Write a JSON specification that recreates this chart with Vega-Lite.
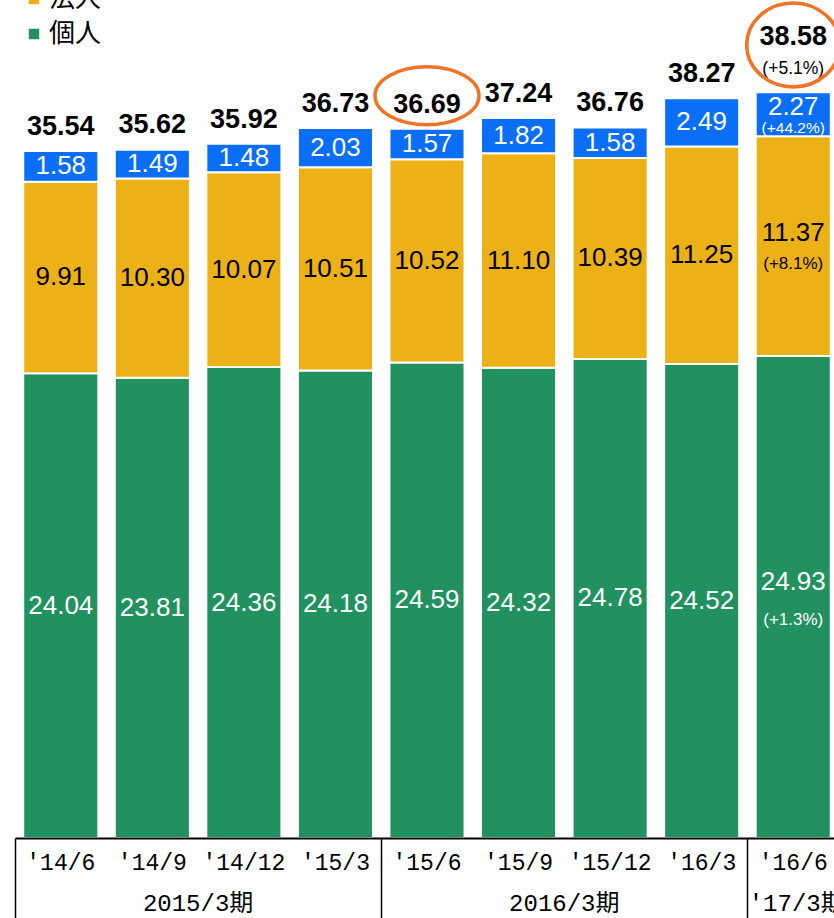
{
  "$schema": "https://vega.github.io/schema/vega-lite/v6.json",
  "width": 819,
  "height": 812,
  "autosize": {"type": "none"},
  "padding": {"left": 15, "top": 26, "right": 0, "bottom": 80},
  "background": "white",
  "config": {"view": {"stroke": null}, "text": {"font": "Liberation Sans"}},
  "datasets": {
    "segments": [
      {"period": "'14/6", "series": "個人", "value": 24.04},
      {"period": "'14/6", "series": "法人", "value": 9.91},
      {"period": "'14/6", "series": "公金", "value": 1.58},
      {"period": "'14/9", "series": "個人", "value": 23.81},
      {"period": "'14/9", "series": "法人", "value": 10.30},
      {"period": "'14/9", "series": "公金", "value": 1.49},
      {"period": "'14/12", "series": "個人", "value": 24.36},
      {"period": "'14/12", "series": "法人", "value": 10.07},
      {"period": "'14/12", "series": "公金", "value": 1.48},
      {"period": "'15/3", "series": "個人", "value": 24.18},
      {"period": "'15/3", "series": "法人", "value": 10.51},
      {"period": "'15/3", "series": "公金", "value": 2.03},
      {"period": "'15/6", "series": "個人", "value": 24.59},
      {"period": "'15/6", "series": "法人", "value": 10.52},
      {"period": "'15/6", "series": "公金", "value": 1.57},
      {"period": "'15/9", "series": "個人", "value": 24.32},
      {"period": "'15/9", "series": "法人", "value": 11.10},
      {"period": "'15/9", "series": "公金", "value": 1.82},
      {"period": "'15/12", "series": "個人", "value": 24.78},
      {"period": "'15/12", "series": "法人", "value": 10.39},
      {"period": "'15/12", "series": "公金", "value": 1.58},
      {"period": "'16/3", "series": "個人", "value": 24.52},
      {"period": "'16/3", "series": "法人", "value": 11.25},
      {"period": "'16/3", "series": "公金", "value": 2.49},
      {"period": "'16/6", "series": "個人", "value": 24.93, "pct": "(+1.3%)"},
      {"period": "'16/6", "series": "法人", "value": 11.37, "pct": "(+8.1%)"},
      {"period": "'16/6", "series": "公金", "value": 2.27, "pct": "(+44.2%)"}
    ],
    "totals": [
      {"period": "'14/6", "total": 35.54},
      {"period": "'14/9", "total": 35.62},
      {"period": "'14/12", "total": 35.92},
      {"period": "'15/3", "total": 36.73},
      {"period": "'15/6", "total": 36.69},
      {"period": "'15/9", "total": 37.24},
      {"period": "'15/12", "total": 36.76},
      {"period": "'16/3", "total": 38.27},
      {"period": "'16/6", "total": 38.58, "pct": "(+5.1%)"}
    ],
    "seriesMeta": [
      {"series": "個人", "rank": 1},
      {"series": "法人", "rank": 2},
      {"series": "公金", "rank": 3}
    ]
  },
  "data": {"name": "segments"},
  "transform": [
    {"lookup": "series", "from": {"data": {"name": "seriesMeta"}, "key": "series", "fields": ["rank"]}}
  ],
  "encoding": {
    "x": {
      "field": "period", "type": "nominal",
      "scale": {"domain": ["'14/6", "'14/9", "'14/12", "'15/3", "'15/6", "'15/9", "'15/12", "'16/3", "'16/6"], "range": [0, 824], "paddingInner": 0, "paddingOuter": 0},
      "axis": null
    }
  },
  "layer": [
    {
      "mark": {"type": "bar", "width": {"band": 0.82}, "stroke": "white", "strokeWidth": 2},
      "encoding": {
        "x": {
          "field": "period", "type": "nominal",
          "scale": {"domain": ["'14/6", "'14/9", "'14/12", "'15/3", "'15/6", "'15/9", "'15/12", "'16/3", "'16/6"], "range": [0, 824], "paddingInner": 0, "paddingOuter": 0},
          "axis": {"orient": "bottom", "offset": 0, "title": null, "ticks": false, "domain": true, "domainColor": "#000000", "domainWidth": 2, "labelFont": "Liberation Mono", "labelFontSize": 23, "labelColor": "#000000", "labelPadding": 24, "labelBaseline": "middle", "labelAngle": 0, "labelOverlap": false, "zindex": 1, "grid": false}
        },
        "y": {"field": "value", "type": "quantitative", "stack": "zero", "scale": {"domain": [0, 42], "nice": false}, "axis": null},
        "color": {
          "field": "series", "type": "nominal",
          "scale": {"domain": ["個人", "法人", "公金"], "range": ["#21915F", "#EDB118", "#0A6EF6"]},
          "legend": {"values": ["公金", "法人", "個人"], "orient": "none", "legendX": 6, "legendY": -75, "title": null, "direction": "vertical", "symbolType": "square", "symbolSize": 110, "symbolStrokeWidth": 0, "labelFont": "Noto Sans CJK JP", "labelFontSize": 26, "labelColor": "#000000", "labelOffset": 2, "rowPadding": 9, "padding": 0}
        },
        "order": {"field": "rank", "type": "quantitative", "sort": "ascending"}
      }
    },
    {
      "mark": {"type": "text", "baseline": "middle", "align": "center", "fontSize": 26},
      "encoding": {
        "y": {"field": "value", "type": "quantitative", "stack": "zero", "bandPosition": 0.5, "scale": {"domain": [0, 42], "nice": false}, "axis": null},
        "detail": {"field": "series", "type": "nominal"},
        "order": {"field": "rank", "type": "quantitative", "sort": "ascending"},
        "text": {"condition": {"test": "datum.pct == null", "field": "value", "type": "quantitative", "format": ".2f"}, "value": ""},
        "color": {"condition": {"test": "datum.series === '法人'", "value": "#000000"}, "value": "#FFFFFF"}
      }
    },
    {
      "mark": {"type": "text", "baseline": "middle", "align": "center", "fontSize": 26, "dy": -15, "color": "#FFFFFF"},
      "encoding": {
        "y": {"field": "value", "type": "quantitative", "stack": "zero", "bandPosition": 0.5, "scale": {"domain": [0, 42], "nice": false}, "axis": null},
        "detail": {"field": "series", "type": "nominal"},
        "order": {"field": "rank", "type": "quantitative", "sort": "ascending"},
        "text": {"condition": {"test": "datum.pct != null && datum.series === '個人'", "field": "value", "type": "quantitative", "format": ".2f"}, "value": ""}
      }
    },
    {
      "mark": {"type": "text", "baseline": "middle", "align": "center", "fontSize": 26, "dy": -13, "color": "#000000"},
      "encoding": {
        "y": {"field": "value", "type": "quantitative", "stack": "zero", "bandPosition": 0.5, "scale": {"domain": [0, 42], "nice": false}, "axis": null},
        "detail": {"field": "series", "type": "nominal"},
        "order": {"field": "rank", "type": "quantitative", "sort": "ascending"},
        "text": {"condition": {"test": "datum.pct != null && datum.series === '法人'", "field": "value", "type": "quantitative", "format": ".2f"}, "value": ""}
      }
    },
    {
      "mark": {"type": "text", "baseline": "middle", "align": "center", "fontSize": 26, "dy": -7, "color": "#FFFFFF"},
      "encoding": {
        "y": {"field": "value", "type": "quantitative", "stack": "zero", "bandPosition": 0.5, "scale": {"domain": [0, 42], "nice": false}, "axis": null},
        "detail": {"field": "series", "type": "nominal"},
        "order": {"field": "rank", "type": "quantitative", "sort": "ascending"},
        "text": {"condition": {"test": "datum.pct != null && datum.series === '公金'", "field": "value", "type": "quantitative", "format": ".2f"}, "value": ""}
      }
    },
    {
      "mark": {"type": "text", "baseline": "middle", "align": "center", "fontSize": 17, "dy": 23, "color": "#FFFFFF"},
      "encoding": {
        "y": {"field": "value", "type": "quantitative", "stack": "zero", "bandPosition": 0.5, "scale": {"domain": [0, 42], "nice": false}, "axis": null},
        "detail": {"field": "series", "type": "nominal"},
        "order": {"field": "rank", "type": "quantitative", "sort": "ascending"},
        "text": {"condition": {"test": "datum.pct != null && datum.series === '個人'", "field": "pct", "type": "nominal"}, "value": ""}
      }
    },
    {
      "mark": {"type": "text", "baseline": "middle", "align": "center", "fontSize": 17, "dy": 18, "color": "#000000"},
      "encoding": {
        "y": {"field": "value", "type": "quantitative", "stack": "zero", "bandPosition": 0.5, "scale": {"domain": [0, 42], "nice": false}, "axis": null},
        "detail": {"field": "series", "type": "nominal"},
        "order": {"field": "rank", "type": "quantitative", "sort": "ascending"},
        "text": {"condition": {"test": "datum.pct != null && datum.series === '法人'", "field": "pct", "type": "nominal"}, "value": ""}
      }
    },
    {
      "mark": {"type": "text", "baseline": "middle", "align": "center", "fontSize": 15.5, "dy": 14, "color": "#FFFFFF"},
      "encoding": {
        "y": {"field": "value", "type": "quantitative", "stack": "zero", "bandPosition": 0.5, "scale": {"domain": [0, 42], "nice": false}, "axis": null},
        "detail": {"field": "series", "type": "nominal"},
        "order": {"field": "rank", "type": "quantitative", "sort": "ascending"},
        "text": {"condition": {"test": "datum.pct != null && datum.series === '公金'", "field": "pct", "type": "nominal"}, "value": ""}
      }
    },
    {
      "data": {"name": "totals"},
      "transform": [{"filter": "datum.pct == null"}],
      "mark": {"type": "text", "baseline": "alphabetic", "align": "center", "fontSize": 27, "fontWeight": "bold", "dy": -16, "color": "#000000"},
      "encoding": {
        "x": {
          "field": "period", "type": "nominal",
          "scale": {"domain": ["'14/6", "'14/9", "'14/12", "'15/3", "'15/6", "'15/9", "'15/12", "'16/3", "'16/6"], "range": [0, 824], "paddingInner": 0, "paddingOuter": 0},
          "axis": {"orient": "bottom", "offset": 0, "title": null, "values": ["'14/6", "'15/6", "'16/6"], "bandPosition": 0, "ticks": true, "tickSize": 82, "tickWidth": 1.5, "tickColor": "#000000", "labels": false, "domain": false, "grid": false, "zindex": 1}
        },
        "y": {"field": "total", "type": "quantitative", "scale": {"domain": [0, 42], "nice": false}, "axis": null},
        "text": {"field": "total", "type": "quantitative", "format": ".2f"}
      }
    },
    {
      "data": {"name": "totals"},
      "transform": [{"filter": "datum.pct != null"}],
      "mark": {"type": "text", "baseline": "alphabetic", "align": "center", "fontSize": 27, "fontWeight": "bold", "dy": -47, "color": "#000000"},
      "encoding": {
        "y": {"field": "total", "type": "quantitative", "scale": {"domain": [0, 42], "nice": false}, "axis": null},
        "text": {"field": "total", "type": "quantitative", "format": ".2f"}
      }
    },
    {
      "data": {"name": "totals"},
      "transform": [{"filter": "datum.pct != null"}],
      "mark": {"type": "text", "baseline": "alphabetic", "align": "center", "fontSize": 17.5, "dy": -18, "color": "#000000"},
      "encoding": {
        "y": {"field": "total", "type": "quantitative", "scale": {"domain": [0, 42], "nice": false}, "axis": null},
        "text": {"field": "pct", "type": "nominal"}
      }
    },
    {
      "data": {"name": "totals"},
      "transform": [{"filter": "datum.period === \"'15/6\" || datum.period === \"'16/6\""}],
      "mark": {"type": "point", "filled": false, "size": 10000, "color": "#F07427", "strokeWidth": 3.5, "opacity": 1},
      "encoding": {
        "x": {
          "field": "period", "type": "nominal",
          "scale": {"domain": ["'14/6", "'14/9", "'14/12", "'15/3", "'15/6", "'15/9", "'15/12", "'16/3", "'16/6"], "range": [0, 824], "paddingInner": 0, "paddingOuter": 0},
          "axis": {"orient": "bottom", "offset": 0, "title": null, "values": ["'14/12", "'15/12", "'16/6"], "bandPosition": 0, "ticks": false, "domain": false, "grid": false, "labelPadding": 65, "labelBaseline": "middle", "labelAngle": 0, "labelOverlap": false, "labelFont": "Liberation Mono, Noto Sans CJK JP", "labelFontSize": 24, "labelColor": "#000000",
            "labelExpr": "datum.value === \"'14/12\" ? '2015/3期' : datum.value === \"'15/12\" ? '2016/3期' : \"'17/3期\"",
            "labelAlign": {"condition": {"test": "datum.value === \"'16/6\"", "value": "left"}, "value": "center"},
            "labelOffset": {"condition": {"test": "datum.value === \"'16/6\"", "value": -44.5}, "value": -45.8}}
        },
        "y": {"field": "total", "type": "quantitative", "scale": {"domain": [0, 42], "nice": false}, "axis": null},
        "shape": {
          "field": "period", "type": "nominal", "legend": null,
          "scale": {"domain": ["'15/6", "'16/6"], "range": [
            "M 1.04 -0.66 C 1.04 -0.34 0.574 -0.08 0 -0.08 C -0.574 -0.08 -1.04 -0.34 -1.04 -0.66 C -1.04 -0.98 -0.574 -1.24 0 -1.24 C 0.574 -1.24 1.04 -0.98 1.04 -0.66 Z",
            "M 0.93 -0.944 C 0.93 -0.48 0.514 -0.104 0 -0.104 C -0.514 -0.104 -0.93 -0.48 -0.93 -0.944 C -0.93 -1.408 -0.514 -1.784 0 -1.784 C 0.514 -1.784 0.93 -1.408 0.93 -0.944 Z"
          ]}
        }
      }
    }
  ],
  "resolve": {"axis": {"x": "independent"}}
}
